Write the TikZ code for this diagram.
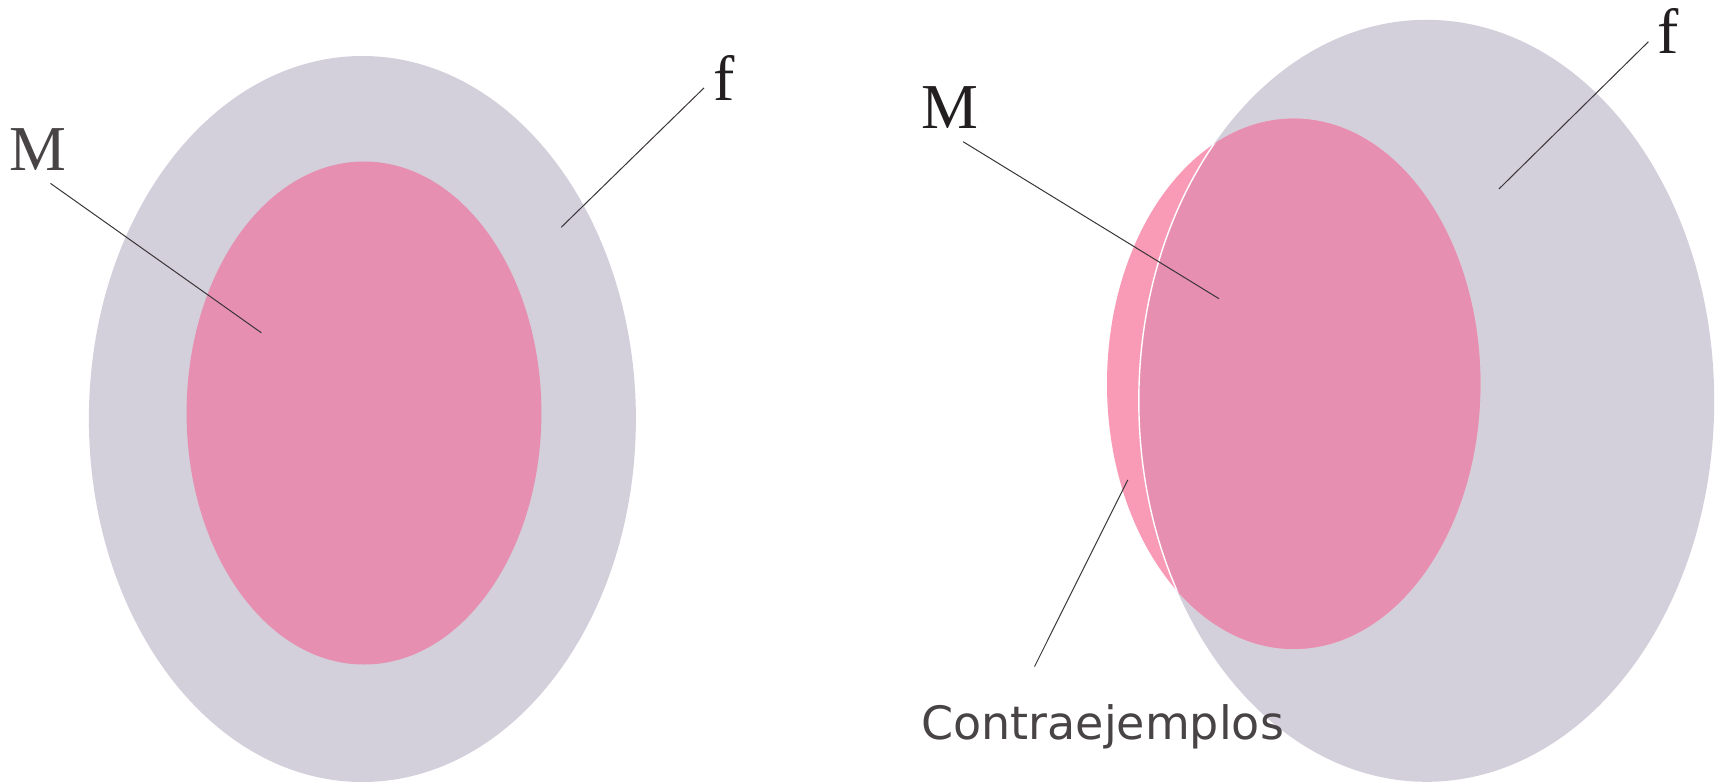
\documentclass[tikz,border=0pt]{standalone}
\usepackage{fontspec}
\setmainfont{Liberation Serif}
\newfontfamily\labelsans{DejaVu Sans}
\definecolor{fgrey}{HTML}{D3CFDB}
\definecolor{mpink}{HTML}{E68FB1}
\definecolor{lpink}{HTML}{F99BB6}
\definecolor{txtgrey}{HTML}{484345}
\definecolor{txtdark}{HTML}{231F20}
\definecolor{leader}{HTML}{3A3537}
\tikzset{
  leaderline/.style={draw=leader, line width=1pt},
  serifletter/.style={font=\fontsize{64}{64}\selectfont, inner sep=0pt},
}
\begin{document}
\begin{tikzpicture}[x=1pt,y=-1pt]
\useasboundingbox (0,0) rectangle (1722,782);
% ---------- left diagram ----------
\fill[fgrey] (362.4,419) ellipse [x radius=273.5, y radius=363];
\fill[mpink] (364,413) ellipse [x radius=177.4, y radius=251.5];
\node[serifletter, text=txtgrey] (M1) at (38.4,150) {M};
\node[serifletter, text=txtdark] (f1) at (723.7,78) {f};
\coordinate (M1a) at (50.5,183.4);
\coordinate (M1b) at (261.4,332.8);
\coordinate (f1a) at (704,87.9);
\coordinate (f1b) at (561.2,227.3);
\draw[leaderline] (M1a) -- (M1b);
\draw[leaderline] (f1a) -- (f1b);
% ---------- right diagram ----------
\fill[fgrey] (1426.5,400.8) ellipse [x radius=287.7, y radius=381];
\fill[lpink] (1293.7,383.8) ellipse [x radius=186.7, y radius=265.2];
\begin{scope}
  \clip (1293.7,383.8) ellipse [x radius=186.7, y radius=265.2];
  \fill[mpink] (1426.5,400.8) ellipse [x radius=287.7, y radius=381];
  \draw[white, line width=1.4pt] (1426.5,400.8) ellipse [x radius=287.7, y radius=381];
\end{scope}
\node[serifletter, text=txtdark] (M2) at (950,107.6) {M};
\node[serifletter, text=txtdark] (f2) at (1668,31) {f};
\node[font=\labelsans\fontsize{46}{46}\selectfont, text=txtgrey, inner sep=0pt] (C) at (1102.6,727) {Contraejemplos};
\coordinate (M2a) at (963.1,141.7);
\coordinate (M2b) at (1219,298.7);
\coordinate (f2a) at (1648.4,41.7);
\coordinate (f2b) at (1499,188.9);
\coordinate (Ca) at (1034.5,666.6);
\coordinate (Cb) at (1127.8,479.9);
\draw[leaderline] (M2a) -- (M2b);
\draw[leaderline] (f2a) -- (f2b);
\draw[leaderline] (Ca) -- (Cb);
\end{tikzpicture}
\end{document}
